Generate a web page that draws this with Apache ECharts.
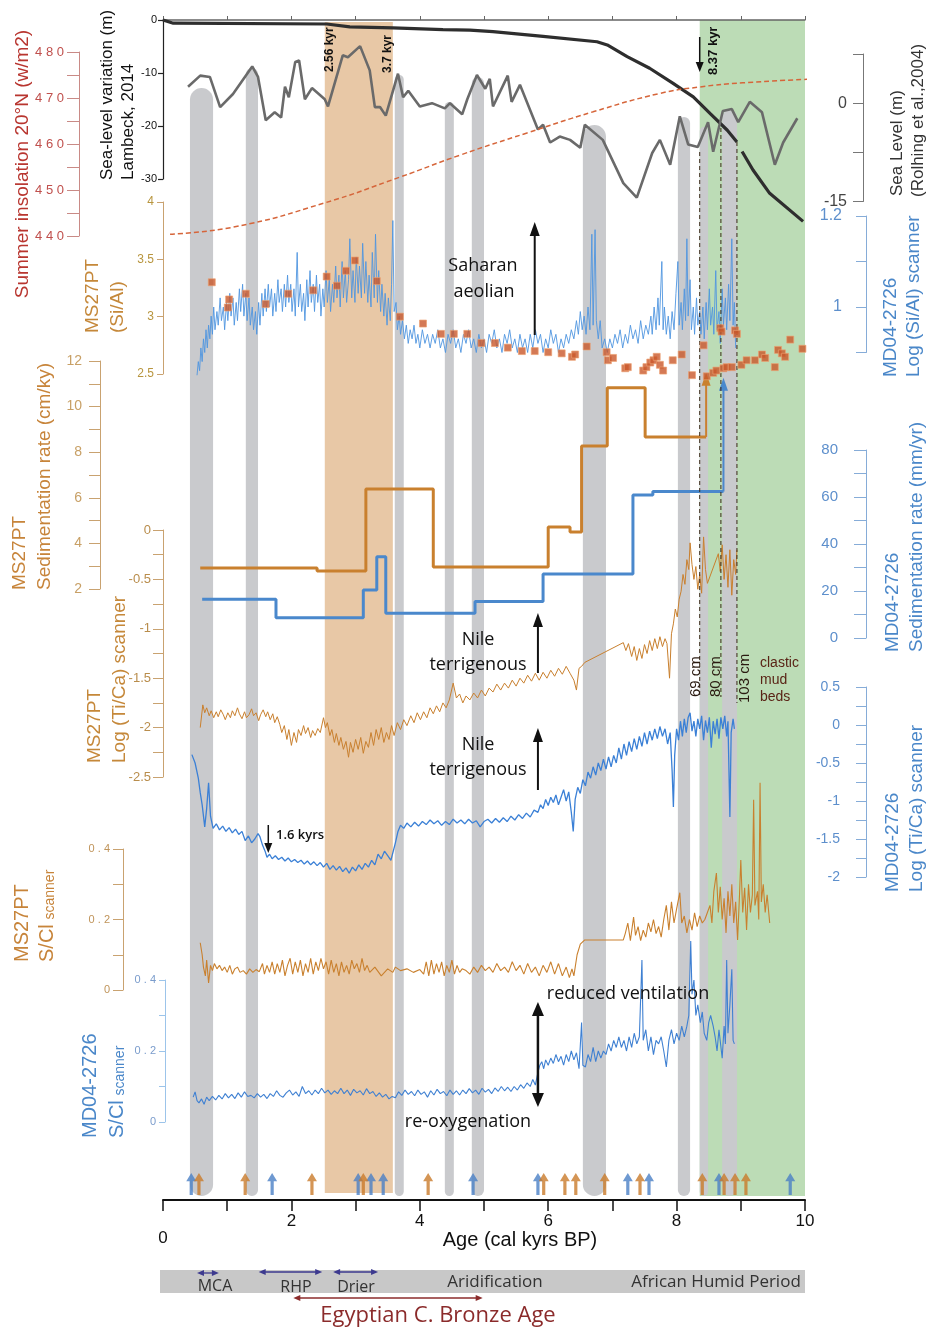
<!DOCTYPE html>
<html>
<head>
<meta charset="utf-8">
<title>Holocene records MS27PT / MD04-2726</title>
<script src="https://cdn.jsdelivr.net/npm/echarts/dist/echarts.min.js"></script>
<style>html,body{margin:0;padding:0;background:#fff;}#c{width:932px;height:1333px;}</style>
</head>
<body>
<div id="c"></div>
<script>
// ================= DATA =================
// Sea-level variation, Lambeck 2014 (m)
const lambeckAge   = [0, 0.16, 2.55, 2.91, 3.58, 4.36, 4.78, 5.14, 5.92, 6.76, 6.92, 7.23, 7.58, 7.94, 8.26, 8.52, 8.79, 8.94, 8.98, 9.02, 9.19, 9.45, 9.97];
const lambeckLevel = [0, -0.6, -0.75, -1.3, -1.5, -1.8, -1.9, -2.2, -3.1, -4.1, -4.7, -6.9, -9.1, -11.9, -14.5, -17.6, -20.8, -23.0, null, -24.8, -28.3, -32.7, -38.0];
// Sea level, Rohling et al. 2004 (m)
const rohlingAge   = [0.39,0.58,0.73,0.89,1.09,1.39,1.48,1.60,1.74,1.84,1.90,1.96,2.06,2.12,2.21,2.32,2.52,2.57,2.80,2.88,3.07,3.22,3.30,3.38,3.47,3.66,3.74,3.82,4.00,4.19,4.39,4.47,4.66,4.74,4.89,5.02,5.09,5.14,5.37,5.43,5.56,5.84,5.92,6.03,6.18,6.34,6.50,6.57,6.85,7.17,7.38,7.62,7.74,7.90,8.05,8.18,8.33,8.49,8.57,8.72,8.86,8.96,9.14,9.33,9.53,9.66,9.88];
const rohlingLevel = [2.5,4.2,4.0,-0.6,1.4,5.6,4.0,-2.6,-1.4,-2.2,2.5,0.9,6.3,6.5,0.6,2.3,0.6,-0.5,7.3,7.0,8.7,5.0,-0.6,-0.6,-1.9,4.5,0.9,1.9,-0.5,0,-0.8,0,-1.7,0.6,4.3,2.2,3.7,-0.5,4.2,0.2,2.8,-4.0,-3.3,-6.0,-5.1,-5.6,-6.8,-3.3,-5.6,-12.2,-14.4,-7.6,-5.6,-9.4,-2.0,-6.3,-6.7,-2.9,-7.4,-1.2,-0.9,-2.9,0.2,-1.4,-9.4,-6.0,-2.3];
// Summer insolation 20N (W/m2)
const insolAge = [0.11, 1.12, 2.52, 3.69, 4.63, 5.67, 6.70, 7.74, 8.36, 9.03, 10.12];
const insolVal = [440.4, 442.0, 447.2, 452.8, 457.6, 462.4, 467.0, 471.0, 472.4, 473.3, 474.1];
// MS27PT Si/Al (discrete samples)
const siAlMS27 = [[0.76,3.30],[1.01,3.08],[1.03,3.15],[1.29,3.20],[1.60,3.11],[1.95,3.20],[2.34,3.23],[2.55,3.35],[2.71,3.27],[2.85,3.40],[2.99,3.49],[3.33,3.31],[3.69,3.00],[4.05,2.94],[4.33,2.85],[4.53,2.85],[4.74,2.85],[4.96,2.77],[5.17,2.77],[5.37,2.73],[5.59,2.70],[5.79,2.70],[6.00,2.69],[6.21,2.68],[6.37,2.65],[6.42,2.67],[6.60,2.74],[6.91,2.69],[6.93,2.62],[7.01,2.64],[7.20,2.55],[7.24,2.56],[7.48,2.53],[7.53,2.56],[7.59,2.60],[7.64,2.62],[7.69,2.65],[7.74,2.58],[7.79,2.53],[7.94,2.62],[8.08,2.67],[8.24,2.49],[8.42,2.75],[8.47,2.48],[8.57,2.51],[8.62,2.53],[8.68,2.90],[8.70,2.87],[8.73,2.55],[8.78,2.56],[8.86,2.56],[8.91,2.88],[8.94,2.85],[9.01,2.58],[9.09,2.62],[9.22,2.62],[9.33,2.67],[9.38,2.64],[9.53,2.56],[9.58,2.71],[9.64,2.68],[9.69,2.65],[9.77,2.80],[9.96,2.72]];
// MD04-2726 log(Si/Al) scanner
const siAlMD04 = [[0.53,0.85],[0.55,0.88],[0.57,0.86],[0.59,0.91],[0.61,0.88],[0.63,0.93],[0.65,0.90],[0.67,0.95],[0.69,0.91],[0.71,0.96],[0.73,0.93],[0.75,0.98],[0.77,0.94],[0.79,1.00],[0.81,0.95],[0.84,0.99],[0.86,0.96],[0.89,1.02],[0.91,0.97],[0.94,1.00],[0.96,0.95],[0.99,1.01],[1.01,0.97],[1.04,1.03],[1.06,0.98],[1.09,1.02],[1.11,0.96],[1.14,1.01],[1.16,0.97],[1.19,1.04],[1.21,0.99],[1.24,1.05],[1.26,0.98],[1.29,1.03],[1.31,0.97],[1.34,1.02],[1.36,0.96],[1.39,1.00],[1.41,0.95],[1.44,0.99],[1.46,0.94],[1.49,1.01],[1.51,0.96],[1.54,1.03],[1.56,0.98],[1.59,1.04],[1.61,0.99],[1.64,1.05],[1.66,1.00],[1.69,1.04],[1.71,0.98],[1.74,1.03],[1.76,0.99],[1.79,1.06],[1.81,1.01],[1.84,1.04],[1.86,0.99],[1.89,1.05],[1.91,1.00],[1.94,1.07],[1.96,1.01],[1.99,1.05],[2.01,0.99],[2.04,1.04],[2.06,0.98],[2.09,1.12],[2.11,1.00],[2.14,1.05],[2.16,0.99],[2.19,1.03],[2.21,0.97],[2.24,1.06],[2.26,1.00],[2.29,1.08],[2.31,1.01],[2.34,1.05],[2.36,0.99],[2.39,1.07],[2.41,1.01],[2.44,1.05],[2.46,0.98],[2.49,1.04],[2.51,1.00],[2.54,1.08],[2.56,1.01],[2.59,1.06],[2.61,0.99],[2.64,1.05],[2.66,1.01],[2.69,1.09],[2.71,1.02],[2.74,1.07],[2.76,1.00],[2.79,1.10],[2.81,1.02],[2.84,1.08],[2.86,1.01],[2.89,1.06],[2.91,1.15],[2.94,1.02],[2.96,1.08],[2.99,1.01],[3.01,1.11],[3.04,1.03],[3.06,1.09],[3.09,1.02],[3.11,1.14],[3.14,1.03],[3.16,1.10],[3.19,1.01],[3.21,1.07],[3.24,1.00],[3.26,1.12],[3.29,1.02],[3.31,1.16],[3.34,1.01],[3.36,1.08],[3.39,0.99],[3.41,1.05],[3.44,0.98],[3.46,1.03],[3.49,0.96],[3.51,1.02],[3.54,0.97],[3.56,1.05],[3.58,1.19],[3.60,0.99],[3.63,1.01],[3.65,0.95],[3.68,0.98],[3.70,0.94],[3.73,0.97],[3.76,0.93],[3.79,0.96],[3.82,0.92],[3.85,0.95],[3.88,0.93],[3.91,0.96],[3.94,0.92],[3.97,0.94],[4.00,0.91],[4.04,0.95],[4.08,0.92],[4.12,0.94],[4.16,0.91],[4.20,0.94],[4.24,0.92],[4.28,0.95],[4.32,0.91],[4.36,0.93],[4.40,0.90],[4.44,0.94],[4.48,0.92],[4.52,0.95],[4.56,0.91],[4.60,0.93],[4.64,0.90],[4.68,0.94],[4.72,0.92],[4.76,0.95],[4.80,0.91],[4.84,0.93],[4.88,0.90],[4.92,0.94],[4.96,0.91],[5.00,0.93],[5.04,0.90],[5.08,0.94],[5.12,0.92],[5.16,0.95],[5.20,0.91],[5.24,0.93],[5.28,0.90],[5.32,0.94],[5.36,0.92],[5.40,0.95],[5.44,0.91],[5.48,0.93],[5.52,0.90],[5.56,0.94],[5.60,0.91],[5.64,0.93],[5.68,0.90],[5.72,0.94],[5.76,0.91],[5.80,0.95],[5.84,0.92],[5.88,0.94],[5.92,0.90],[5.96,0.93],[6.00,0.91],[6.04,0.95],[6.08,0.92],[6.12,0.94],[6.16,0.90],[6.20,0.93],[6.24,0.91],[6.28,0.94],[6.32,0.92],[6.36,0.95],[6.40,0.93],[6.44,0.97],[6.47,0.94],[6.50,0.99],[6.53,0.95],[6.56,0.98],[6.59,0.94],[6.62,1.00],[6.65,0.95],[6.68,1.16],[6.70,0.96],[6.73,1.17],[6.75,0.97],[6.78,0.93],[6.81,0.97],[6.84,0.91],[6.88,0.93],[6.92,0.90],[6.96,0.93],[7.00,0.91],[7.04,0.94],[7.08,0.92],[7.12,0.95],[7.16,0.91],[7.20,0.94],[7.24,0.92],[7.28,0.96],[7.32,0.93],[7.36,0.95],[7.40,0.92],[7.44,0.97],[7.48,0.93],[7.52,0.96],[7.56,0.94],[7.60,0.98],[7.62,0.94],[7.65,1.00],[7.68,0.95],[7.71,1.02],[7.73,0.96],[7.77,1.10],[7.79,0.95],[7.81,1.00],[7.84,0.94],[7.87,0.98],[7.90,0.93],[7.93,0.99],[7.96,0.95],[7.99,1.03],[8.02,1.10],[8.04,0.96],[8.07,1.01],[8.09,0.95],[8.12,1.04],[8.14,0.97],[8.16,1.15],[8.18,0.98],[8.21,1.06],[8.23,0.95],[8.26,1.00],[8.28,0.94],[8.31,1.02],[8.33,0.96],[8.36,0.99],[8.38,0.94],[8.41,1.00],[8.43,0.93],[8.46,1.01],[8.48,0.95],[8.51,1.04],[8.53,0.96],[8.56,1.00],[8.58,0.94],[8.61,1.08],[8.63,0.95],[8.66,0.99],[8.68,0.92],[8.71,1.04],[8.73,0.96],[8.76,1.02],[8.78,0.95],[8.81,1.05],[8.83,0.97],[8.86,1.15],[8.88,0.96],[8.90,1.01],[8.92,0.91]];
// Sedimentation rates (step breakpoints)
const sedMS27Age  = [0.58, 2.40, 3.16, 4.21, 6.00, 6.34, 6.52, 6.92, 7.51, 8.46];
const sedMS27Rate = [2.92, 2.79, 6.39, 2.96, 4.72, 4.50, 8.27, 10.83, 8.67, 8.67];
const sedMS27Beyond = [8.46, 11.2];
const sedMD04Age  = [0.61, 1.76, 3.12, 3.33, 3.47, 4.86, 5.92, 7.32, 7.63, 8.73];
const sedMD04Rate = [16.5, 8.6, 20.4, 34.6, 10.5, 15.5, 27.2, 60.9, 62.3, 62.3];
const sedMD04Beyond = [8.73, 108];
// MS27PT log(Ti/Ca) scanner
const tiCaMS27 = [[0.58,-2.00],[0.62,-1.77],[0.65,-1.85],[0.68,-1.80],[0.72,-1.88],[0.75,-1.83],[0.79,-1.90],[0.83,-1.84],[0.86,-1.89],[0.90,-1.82],[0.94,-1.87],[0.97,-1.92],[1.01,-1.85],[1.05,-1.90],[1.08,-1.83],[1.12,-1.88],[1.16,-1.80],[1.19,-1.86],[1.23,-1.91],[1.27,-1.84],[1.30,-1.90],[1.34,-1.87],[1.38,-1.81],[1.41,-1.88],[1.45,-1.85],[1.49,-1.93],[1.52,-1.87],[1.56,-1.82],[1.60,-1.89],[1.63,-1.84],[1.67,-1.92],[1.71,-1.86],[1.74,-1.95],[1.78,-1.89],[1.82,-1.97],[1.85,-2.05],[1.89,-1.98],[1.93,-2.12],[1.96,-2.02],[2.00,-2.18],[2.04,-2.05],[2.08,-2.15],[2.11,-2.02],[2.15,-2.08],[2.19,-1.98],[2.22,-2.06],[2.26,-2.00],[2.30,-2.10],[2.33,-2.03],[2.37,-2.08],[2.41,-2.01],[2.45,-2.05],[2.50,-1.90],[2.53,-2.00],[2.56,-1.95],[2.60,-2.08],[2.63,-2.02],[2.67,-2.15],[2.70,-2.06],[2.74,-2.18],[2.77,-2.10],[2.81,-2.22],[2.85,-2.14],[2.89,-2.30],[2.92,-2.15],[2.96,-2.25],[3.00,-2.12],[3.04,-2.22],[3.08,-2.10],[3.12,-2.26],[3.16,-2.14],[3.20,-2.20],[3.24,-2.05],[3.28,-2.18],[3.32,-2.02],[3.36,-2.12],[3.40,-2.00],[3.44,-2.15],[3.48,-2.05],[3.52,-2.12],[3.56,-1.98],[3.60,-2.08],[3.65,-1.95],[3.70,-2.02],[3.75,-1.92],[3.80,-1.98],[3.86,-1.88],[3.91,-1.95],[3.96,-1.85],[4.01,-1.92],[4.06,-1.84],[4.11,-1.90],[4.16,-1.80],[4.21,-1.86],[4.26,-1.78],[4.31,-1.84],[4.36,-1.75],[4.41,-1.80],[4.46,-1.72],[4.52,-1.55],[4.57,-1.70],[4.62,-1.66],[4.67,-1.75],[4.72,-1.68],[4.78,-1.72],[4.84,-1.65],[4.90,-1.70],[4.96,-1.62],[5.02,-1.68],[5.08,-1.60],[5.14,-1.64],[5.20,-1.56],[5.26,-1.62],[5.32,-1.55],[5.38,-1.60],[5.44,-1.52],[5.50,-1.58],[5.56,-1.50],[5.62,-1.55],[5.68,-1.47],[5.74,-1.53],[5.80,-1.45],[5.86,-1.52],[5.92,-1.44],[5.98,-1.50],[6.04,-1.42],[6.10,-1.48],[6.16,-1.40],[6.22,-1.46],[6.28,-1.38],[6.34,-1.45],[6.40,-1.52],[6.44,-1.62],[6.48,-1.40],[6.52,-1.38],[6.57,-1.34],[7.17,-1.14],[7.21,-1.22],[7.25,-1.15],[7.30,-1.28],[7.34,-1.18],[7.38,-1.32],[7.42,-1.20],[7.46,-1.30],[7.50,-1.16],[7.54,-1.25],[7.58,-1.12],[7.62,-1.22],[7.66,-1.10],[7.70,-1.20],[7.74,-1.08],[7.78,-1.18],[7.82,-1.10],[7.85,-1.15],[7.89,-1.50],[7.92,-1.05],[7.95,-0.95],[7.98,-0.80],[8.01,-0.88],[8.04,-0.70],[8.07,-0.62],[8.10,-0.45],[8.13,-0.55],[8.16,-0.30],[8.19,-0.40],[8.21,-0.13],[8.24,-0.35],[8.27,-0.50],[8.30,-0.37],[8.33,-0.60],[8.36,-0.45],[8.39,-0.64],[8.42,-0.07],[8.45,-0.40],[8.48,-0.54],[8.65,-0.24],[8.68,-0.42],[8.71,-0.15],[8.74,-0.50],[8.77,-0.25],[8.80,-0.58],[8.83,-0.20],[8.86,-0.66],[8.89,-0.30],[8.92,-0.45],[8.94,-0.20]];
// MD04-2726 log(Ti/Ca) scanner
const tiCaMD04 = [[0.45,-0.39],[0.50,-0.50],[0.55,-0.70],[0.58,-0.89],[0.61,-1.05],[0.65,-1.34],[0.68,-1.10],[0.71,-0.76],[0.74,-1.20],[0.78,-1.36],[0.83,-1.30],[0.88,-1.38],[0.93,-1.33],[0.98,-1.40],[1.03,-1.35],[1.08,-1.42],[1.13,-1.37],[1.18,-1.44],[1.23,-1.40],[1.28,-1.52],[1.33,-1.46],[1.38,-1.55],[1.43,-1.50],[1.48,-1.43],[1.51,-1.47],[1.55,-1.58],[1.59,-1.66],[1.62,-1.74],[1.66,-1.70],[1.70,-1.76],[1.75,-1.72],[1.80,-1.77],[1.85,-1.74],[1.90,-1.79],[1.95,-1.75],[2.00,-1.80],[2.05,-1.77],[2.10,-1.81],[2.15,-1.78],[2.20,-1.83],[2.25,-1.79],[2.30,-1.84],[2.35,-1.80],[2.40,-1.85],[2.45,-1.81],[2.50,-1.87],[2.55,-1.82],[2.60,-1.90],[2.65,-1.85],[2.70,-1.91],[2.75,-1.86],[2.80,-1.93],[2.85,-1.88],[2.90,-1.95],[2.95,-1.87],[3.00,-1.92],[3.05,-1.84],[3.10,-1.90],[3.15,-1.82],[3.20,-1.87],[3.25,-1.78],[3.30,-1.84],[3.35,-1.70],[3.40,-1.76],[3.45,-1.66],[3.50,-1.72],[3.55,-1.78],[3.58,-1.80],[3.62,-1.55],[3.66,-1.40],[3.70,-1.32],[3.75,-1.36],[3.80,-1.29],[3.86,-1.34],[3.92,-1.28],[3.98,-1.33],[4.04,-1.27],[4.10,-1.31],[4.16,-1.25],[4.22,-1.30],[4.28,-1.26],[4.34,-1.32],[4.40,-1.27],[4.46,-1.31],[4.52,-1.24],[4.58,-1.29],[4.64,-1.25],[4.70,-1.30],[4.76,-1.24],[4.82,-1.29],[4.88,-1.26],[4.94,-1.34],[5.00,-1.27],[5.06,-1.24],[5.12,-1.29],[5.18,-1.23],[5.24,-1.28],[5.30,-1.22],[5.36,-1.27],[5.42,-1.20],[5.48,-1.25],[5.54,-1.18],[5.60,-1.23],[5.66,-1.16],[5.72,-1.21],[5.78,-1.12],[5.84,-1.15],[5.88,-1.05],[5.92,-1.10],[5.96,-0.98],[6.00,-1.06],[6.04,-0.95],[6.08,-1.02],[6.12,-0.92],[6.16,-1.05],[6.20,-0.95],[6.24,-0.85],[6.28,-1.00],[6.32,-0.88],[6.36,-1.15],[6.39,-1.40],[6.42,-0.98],[6.46,-0.82],[6.50,-0.90],[6.54,-0.72],[6.58,-0.80],[6.62,-0.62],[6.66,-0.70],[6.70,-0.55],[6.74,-0.66],[6.78,-0.50],[6.82,-0.60],[6.86,-0.45],[6.90,-0.58],[6.94,-0.42],[6.98,-0.55],[7.02,-0.40],[7.06,-0.50],[7.10,-0.30],[7.14,-0.45],[7.18,-0.25],[7.22,-0.40],[7.26,-0.22],[7.30,-0.35],[7.34,-0.18],[7.38,-0.32],[7.42,-0.15],[7.46,-0.28],[7.50,-0.10],[7.54,-0.25],[7.58,-0.08],[7.62,-0.20],[7.66,-0.05],[7.70,-0.18],[7.74,-0.02],[7.78,-0.15],[7.82,-0.05],[7.86,-0.25],[7.90,-0.10],[7.93,-0.60],[7.95,-1.08],[7.97,-0.40],[8.00,-0.05],[8.03,-0.20],[8.06,0.05],[8.09,-0.15],[8.12,0.08],[8.15,-0.10],[8.18,0.10],[8.21,0.16],[8.24,-0.08],[8.27,0.05],[8.30,-0.15],[8.33,0.08],[8.36,-0.05],[8.39,0.12],[8.42,-0.20],[8.45,0.06],[8.48,-0.10],[8.51,0.10],[8.54,-0.30],[8.57,0.05],[8.60,-0.12],[8.63,0.08],[8.66,-0.18],[8.69,0.10],[8.72,-0.05],[8.75,0.12],[8.78,-0.15],[8.80,0.05],[8.83,-1.21],[8.85,-0.10],[8.88,0.08],[8.90,-0.05]];
// MS27PT S/Cl scanner
const sClMS27 = [[0.58,0.134],[0.61,0.10],[0.63,0.065],[0.66,0.04],[0.68,0.085],[0.71,0.02],[0.74,0.07],[0.77,0.055],[0.80,0.075],[0.84,0.06],[0.88,0.07],[0.92,0.055],[0.96,0.065],[1.00,0.05],[1.04,0.07],[1.08,0.045],[1.12,0.06],[1.16,0.065],[1.20,0.05],[1.25,0.055],[1.30,0.045],[1.35,0.06],[1.40,0.05],[1.45,0.058],[1.50,0.052],[1.55,0.075],[1.58,0.045],[1.62,0.07],[1.66,0.05],[1.70,0.08],[1.74,0.045],[1.78,0.075],[1.82,0.05],[1.86,0.085],[1.90,0.04],[1.94,0.07],[1.98,0.09],[2.02,0.045],[2.06,0.08],[2.10,0.05],[2.14,0.085],[2.18,0.04],[2.22,0.075],[2.26,0.05],[2.30,0.09],[2.34,0.045],[2.38,0.08],[2.42,0.055],[2.46,0.09],[2.50,0.06],[2.54,0.08],[2.58,0.045],[2.62,0.085],[2.66,0.05],[2.70,0.075],[2.74,0.04],[2.78,0.08],[2.82,0.05],[2.86,0.07],[2.90,0.045],[2.94,0.085],[2.98,0.06],[3.02,0.075],[3.06,0.05],[3.10,0.09],[3.14,0.055],[3.18,0.07],[3.22,0.05],[3.30,0.065],[3.40,0.04],[3.50,0.06],[3.58,0.05],[3.62,0.065],[3.70,0.055],[3.80,0.06],[3.90,0.05],[4.00,0.058],[4.06,0.045],[4.10,0.08],[4.14,0.04],[4.18,0.085],[4.22,0.045],[4.26,0.075],[4.30,0.05],[4.34,0.08],[4.38,0.04],[4.42,0.07],[4.46,0.05],[4.50,0.085],[4.54,0.045],[4.58,0.07],[4.62,0.05],[4.66,0.06],[4.72,0.055],[4.78,0.045],[4.84,0.065],[4.90,0.05],[4.96,0.07],[5.02,0.055],[5.08,0.065],[5.14,0.05],[5.20,0.075],[5.26,0.055],[5.32,0.065],[5.38,0.05],[5.44,0.08],[5.50,0.055],[5.56,0.07],[5.62,0.045],[5.68,0.075],[5.74,0.05],[5.80,0.065],[5.86,0.04],[5.92,0.07],[5.98,0.05],[6.04,0.08],[6.10,0.045],[6.16,0.075],[6.22,0.04],[6.28,0.065],[6.33,0.035],[6.37,0.06],[6.40,0.04],[6.45,0.10],[6.50,0.13],[6.57,0.142],[7.17,0.142],[7.20,0.16],[7.24,0.19],[7.28,0.14],[7.33,0.207],[7.36,0.155],[7.40,0.18],[7.44,0.14],[7.48,0.17],[7.52,0.15],[7.56,0.19],[7.60,0.165],[7.64,0.20],[7.68,0.16],[7.72,0.18],[7.76,0.15],[7.80,0.20],[7.84,0.24],[7.88,0.17],[7.92,0.25],[7.96,0.19],[8.00,0.23],[8.05,0.276],[8.08,0.19],[8.12,0.21],[8.16,0.162],[8.20,0.20],[8.24,0.17],[8.28,0.219],[8.32,0.18],[8.36,0.21],[8.40,0.19],[8.44,0.20],[8.47,0.215],[8.49,0.21],[8.52,0.24],[8.55,0.19],[8.58,0.28],[8.62,0.332],[8.65,0.22],[8.68,0.293],[8.71,0.20],[8.74,0.26],[8.77,0.162],[8.80,0.28],[8.83,0.21],[8.86,0.30],[8.89,0.19],[8.92,0.25],[8.95,0.142],[8.98,0.27],[9.00,0.369],[9.03,0.22],[9.06,0.29],[9.09,0.17],[9.12,0.30],[9.15,0.22],[9.18,0.27],[9.20,0.54],[9.22,0.24],[9.26,0.28],[9.28,0.20],[9.30,0.588],[9.32,0.25],[9.35,0.30],[9.38,0.22],[9.41,0.27],[9.45,0.19]];
// MD04-2726 S/Cl scanner
const sClMD04 = [[0.47,0.07],[0.50,0.085],[0.53,0.06],[0.56,0.054],[0.60,0.065],[0.64,0.05],[0.68,0.07],[0.72,0.06],[0.77,0.072],[0.82,0.062],[0.87,0.075],[0.92,0.065],[0.97,0.08],[1.02,0.068],[1.07,0.078],[1.12,0.066],[1.17,0.082],[1.22,0.07],[1.27,0.085],[1.32,0.072],[1.37,0.075],[1.42,0.068],[1.47,0.08],[1.52,0.07],[1.57,0.078],[1.62,0.066],[1.67,0.08],[1.72,0.072],[1.77,0.088],[1.82,0.075],[1.87,0.07],[1.92,0.082],[1.97,0.09],[2.02,0.076],[2.07,0.085],[2.12,0.072],[2.17,0.10],[2.22,0.08],[2.27,0.088],[2.32,0.076],[2.37,0.09],[2.42,0.08],[2.47,0.095],[2.52,0.082],[2.57,0.09],[2.62,0.078],[2.67,0.088],[2.72,0.08],[2.77,0.095],[2.82,0.08],[2.87,0.09],[2.92,0.075],[2.97,0.092],[3.02,0.082],[3.07,0.088],[3.12,0.076],[3.17,0.094],[3.22,0.08],[3.27,0.086],[3.32,0.072],[3.37,0.082],[3.42,0.07],[3.47,0.078],[3.52,0.065],[3.57,0.072],[3.62,0.068],[3.67,0.085],[3.72,0.075],[3.77,0.09],[3.82,0.078],[3.87,0.086],[3.92,0.074],[3.97,0.09],[4.02,0.078],[4.07,0.085],[4.12,0.07],[4.17,0.088],[4.22,0.076],[4.27,0.092],[4.32,0.08],[4.37,0.086],[4.42,0.074],[4.47,0.09],[4.52,0.078],[4.57,0.088],[4.62,0.076],[4.67,0.09],[4.72,0.08],[4.77,0.094],[4.82,0.082],[4.87,0.09],[4.92,0.078],[4.97,0.095],[5.02,0.084],[5.07,0.092],[5.12,0.08],[5.17,0.096],[5.22,0.086],[5.27,0.10],[5.32,0.088],[5.37,0.098],[5.42,0.086],[5.47,0.10],[5.52,0.09],[5.57,0.105],[5.62,0.095],[5.67,0.11],[5.72,0.10],[5.76,0.12],[5.80,0.104],[5.84,0.14],[5.87,0.16],[5.90,0.17],[5.93,0.15],[5.96,0.175],[6.00,0.16],[6.04,0.18],[6.08,0.165],[6.12,0.19],[6.16,0.17],[6.20,0.185],[6.24,0.16],[6.28,0.19],[6.32,0.17],[6.36,0.20],[6.40,0.175],[6.44,0.195],[6.48,0.15],[6.52,0.28],[6.54,0.16],[6.58,0.155],[6.62,0.19],[6.66,0.17],[6.70,0.21],[6.74,0.17],[6.78,0.20],[6.82,0.18],[6.86,0.20],[6.90,0.19],[6.94,0.22],[6.98,0.2],[7.02,0.23],[7.06,0.21],[7.10,0.24],[7.14,0.21],[7.18,0.23],[7.22,0.20],[7.26,0.24],[7.30,0.21],[7.34,0.25],[7.38,0.22],[7.42,0.24],[7.46,0.456],[7.48,0.23],[7.52,0.26],[7.56,0.2],[7.60,0.24],[7.64,0.19],[7.68,0.23],[7.72,0.22],[7.76,0.24],[7.80,0.2],[7.84,0.155],[7.88,0.23],[7.92,0.26],[7.96,0.22],[8.00,0.25],[8.04,0.23],[8.08,0.27],[8.12,0.24],[8.16,0.27],[8.19,0.3],[8.22,0.51],[8.24,0.36],[8.27,0.40],[8.30,0.3],[8.33,0.33],[8.37,0.28],[8.40,0.31],[8.43,0.25],[8.47,0.23],[8.50,0.28],[8.53,0.30],[8.57,0.27],[8.60,0.24],[8.63,0.20],[8.66,0.26],[8.71,0.18],[8.74,0.27],[8.76,0.22],[8.78,0.456],[8.80,0.25],[8.83,0.33],[8.86,0.43],[8.88,0.23],[8.90,0.22]];
// Radiocarbon / dating control points
const datesMD04 = [0.44, 1.70, 3.04, 3.24, 3.43, 4.83, 5.84, 7.24, 7.57, 8.66, 9.77];
const datesMS27 = [0.56, 1.28, 2.32, 3.12, 4.13, 5.93, 6.26, 6.43, 6.88, 7.43, 8.40, 8.74, 8.91, 9.08];
// Shaded intervals (kyr BP)
const greyBands  = [[0.42,0.78],[1.29,1.48],[3.61,3.75],[4.39,4.53],[4.81,5.00],[6.54,6.90],[8.02,8.21],[8.36,8.49],[8.71,8.94]];
const tanBand    = [[2.52, 3.58]];
const greenBand  = [[8.36, 10.0]];
const cutAges    = [8.36, 8.69, 8.94];           // 69 cm, 80 cm, 103 cm
const periodSpans = [[0.53,0.87],[1.49,2.48],[2.65,3.35],[2.03,4.98]]; // MCA, RHP, Drier, Egyptian Bronze Age
const annoAges   = [5.79, 5.84, 5.84, 5.84, 1.64, 8.36]; // x of annotation arrows

// ================= LAYOUT / STYLE =================
const SANS = '"Liberation Sans", Arial, sans-serif';
const MYR = '"Open Sans", "Noto Sans", sans-serif';
const OR = '#c9802e', OR_AX = '#c9a270', OR_LB = '#b98d4c', OR_T = '#c5883a';
const BL = '#4a88cc', BL_AX = '#86acd8', BL_LB = '#5d8fcc', BL_T = '#4a87c9';
const PANELS = [[20,159],[54,147.5],[52,184],[202,172],[216,136.5],[361,228],[450,188],[530,247],[687,190],[849,141],[980,142],[20,1180],[1170,28],[1262,50]];
const GREY_TOP = [88,68,75,102,77,125,117,127,110], BAND_BOT = 1196;
const CUT_TOP = [152,128,142], CUT_BOT = [697,697,703];
const PERIOD_Y = [1273,1272,1272,1298], PERIOD_C = ['#3d3a8f','#3d3a8f','#3d3a8f','#8b2b2b'];
const ANNO = [ // top, bottom, headTop, headBottom, width, headHalfWidth, headLength
  [222,335,true,false,2,5,14],[613,673,true,false,2,5,14],[728,790,true,false,2,5,14],
  [1002,1107,true,true,2.5,6,14],[825,853,false,true,1.5,4,10],[37,72,false,true,1.5,4,10]];

const pairs = (a,b) => a.map((x,i) => [x, b[i] == null ? '-' : b[i]]);
const near = (v,t) => Math.abs(v-t) < 1e-6;

const chart = echarts.init(document.getElementById('c'), null, {renderer:'canvas'});

const grid = PANELS.map(p => ({left:163, width:642, top:p[0], height:p[1]}));
const xAxis = PANELS.map((p,i) => ({type:'value', gridIndex:i, min:0, max:10, interval:1, show:false,
  axisLine:{onZero:false}, splitLine:{show:false}}));
xAxis[0] = {type:'value', gridIndex:0, min:0, max:10, interval:1, position:'top', show:true,
  axisLine:{onZero:false, lineStyle:{color:'#666', width:1.5}}, axisTick:{length:4, lineStyle:{color:'#666'}},
  axisLabel:{show:false}, splitLine:{show:false}};
xAxis[11] = {type:'value', gridIndex:11, min:0, max:10, interval:1, position:'bottom', show:true,
  axisLine:{onZero:false, lineStyle:{color:'#111', width:2}}, axisTick:{length:11, lineStyle:{color:'#111', width:1.5}},
  axisLabel:{fontSize:17, color:'#111', fontFamily:SANS, margin:13,
    formatter: v => v === 0 ? '\n0' : (v % 2 === 0 ? String(v) : '')}, splitLine:{show:false}};

function yAx(gi, o) {
  return {type:'value', gridIndex:gi, min:o.min, max:o.max, interval:o.interval,
    position:o.pos || 'left', offset:o.offset || 0, splitLine:{show:false},
    axisLine:{show:true, onZero:false, lineStyle:{color:o.line, width:o.lw || 1}},
    axisTick:{show:true, inside:!!o.inside, length:o.tick || 8, lineStyle:{color:o.line, width:o.lw || 1}},
    axisLabel:{show:true, inside:!!o.inside, margin:o.margin || 8, color:o.label, fontSize:o.fs || 12,
      fontFamily:SANS, formatter:o.fmt, showMinLabel:true, showMaxLabel:true}};
}
const halfFmt = v => { const r = Math.round(v*100)/100; return near(r*2, Math.round(r*2)) ? String(r) : ''; };
const sclFmt = v => near(v,0.4) ? '0 . 4' : near(v,0.2) ? '0 . 2' : near(v,0) ? '0' : '';
const yAxis = [
  yAx(0,{min:-30,max:0,interval:10,line:'#222',label:'#111',fs:11,tick:5,margin:6,lw:1.2,fmt:v=>String(v)}),
  yAx(1,{min:-15,max:7.5,interval:7.5,pos:'right',offset:58,inside:true,line:'#777',label:'#444',fs:16,tick:10,margin:16,
    fmt:v=>near(v,0)?'0':near(v,-15)?'-15':''}),
  yAx(2,{min:440,max:480,interval:5,offset:84,line:'#c98a86',label:'#c0504d',fs:13,tick:12,margin:15,
    fmt:v=>Math.round(v)%10===0?String(Math.round(v)).split('').join(' '):''}),
  yAx(3,{min:2.5,max:4,interval:0.5,line:OR_AX,label:'#b8953e',fs:12,tick:6,margin:9,fmt:v=>String(Math.round(v*10)/10)}),
  yAx(4,{min:0.9,max:1.2,interval:0.1,pos:'right',offset:61,inside:true,line:BL_AX,label:BL_LB,fs:16,tick:10,margin:24,
    fmt:v=>near(v,1.2)?'1.2':near(v,1)?'1':''}),
  yAx(5,{min:2,max:12,interval:1,offset:63,line:OR_AX,label:'#c8a066',fs:14,tick:11,margin:18,fmt:v=>v%2===0?String(v):''}),
  yAx(6,{min:0,max:80,interval:10,pos:'right',offset:61,inside:true,line:BL_AX,label:BL_LB,fs:15,tick:12,margin:28,
    fmt:v=>v%20===0?String(v):''}),
  yAx(7,{min:-2.5,max:0,interval:0.25,line:OR_AX,label:OR_LB,fs:13,tick:10,margin:12,fmt:halfFmt}),
  yAx(8,{min:-2,max:0.5,interval:0.25,pos:'right',offset:61,inside:true,line:BL_AX,label:BL_LB,fs:14,tick:10,margin:26,fmt:halfFmt}),
  yAx(9,{min:0,max:0.4,interval:0.1,offset:40,line:OR_AX,label:'#c0945a',fs:11,tick:10,margin:13,fmt:sclFmt}),
  yAx(10,{min:0,max:0.4,interval:0.1,offset:-2,line:'#9cc4ea',label:'#7a9ccc',fs:11,tick:6,margin:9,fmt:sclFmt}),
  {type:'value', gridIndex:11, min:0, max:1, show:false},
  {type:'value', gridIndex:12, min:0, max:1, show:false},
  {type:'value', gridIndex:13, min:0, max:1, show:false}
];

function line(gi, data, color, width, extra) {
  return Object.assign({type:'line', xAxisIndex:gi, yAxisIndex:gi, data, symbol:'none', showSymbol:false,
    clip:false, silent:true, lineStyle:{color, width}, itemStyle:{color}, z:5}, extra || {});
}
function bandSeries(data, color, tops, bot, rounded, z) {
  return {type:'custom', xAxisIndex:11, yAxisIndex:11, data, z, silent:true,
    renderItem: (params, api) => {
      const x0 = api.coord([api.value(0), 0])[0], x1 = api.coord([api.value(1), 0])[0];
      const top = tops[params.dataIndex], w = x1 - x0;
      return {type:'rect', shape:{x:x0, y:top, width:w, height:bot - top, r: rounded ? w/2 : 0}, style:{fill:color}};
    }};
}
function headPts(x, y, dir, hw, hl) { // dir -1 up tip, +1 down tip
  return [[x, y], [x - hw, y - dir*hl], [x + hw, y - dir*hl]];
}
const ARROW_UP = 'path://M5 0 L10 9 L6.6 9 L6.6 24 L3.4 24 L3.4 9 L0 9 Z';

const series = [
  bandSeries(greenBand, '#bcdcb6', [20], BAND_BOT, false, 0),
  bandSeries(tanBand, '#e8c8a6', [22], 1193, false, 0),
  bandSeries(greyBands, '#c9cacd', GREY_TOP, BAND_BOT, true, 1),
  // dashed core-depth markers
  {type:'custom', xAxisIndex:11, yAxisIndex:11, data:cutAges.map(a=>[a,0]), z:6, silent:true,
   renderItem:(params, api) => { const x = api.coord([api.value(0),0])[0], i = params.dataIndex;
     return {type:'line', shape:{x1:x, y1:CUT_TOP[i], x2:x, y2:CUT_BOT[i]}, style:{stroke:'#3a2818', lineWidth:1, lineDash:[4,3]}}; }},
  // sea level curves
  line(0, pairs(lambeckAge, lambeckLevel), '#2e2e2e', 3.2, {connectNulls:false}),
  line(1, pairs(rohlingAge, rohlingLevel), '#6a6a6a', 2.6),
  line(2, pairs(insolAge, insolVal), '#d6653a', 1.5, {smooth:true, lineStyle:{color:'#d6653a', width:1.5, type:[5,3]}}),
  // Si/Al
  line(4, siAlMD04, '#4f95e0', 0.9),
  {type:'scatter', xAxisIndex:3, yAxisIndex:3, data:siAlMS27, symbol:'rect', symbolSize:7, clip:false, silent:true, z:7,
   itemStyle:{color:'#c9582a', borderColor:'#eea070', borderWidth:0.8}},
  // sedimentation rates
  line(5, pairs(sedMS27Age, sedMS27Rate), OR, 3, {step:'end'}),
  line(5, [{value:[sedMS27Beyond[0], sedMS27Rate[sedMS27Rate.length-1]], symbol:'none'},
           {value:[sedMS27Beyond[0], sedMS27Beyond[1]], symbol:'triangle', symbolSize:[9,13]}], OR, 2, {showSymbol:true}),
  line(6, pairs(sedMD04Age, sedMD04Rate), BL, 3, {step:'end'}),
  line(6, [{value:[sedMD04Beyond[0], sedMD04Rate[sedMD04Rate.length-1]], symbol:'none'},
           {value:[sedMD04Beyond[0], sedMD04Beyond[1]], symbol:'triangle', symbolSize:[9,13]}], BL, 2, {showSymbol:true}),
  // Ti/Ca
  line(7, tiCaMS27, OR, 1),
  line(8, tiCaMD04, '#3b80d6', 1.3),
  // S/Cl
  line(9, sClMS27, OR, 1.1),
  line(10, sClMD04, '#3f80d2', 1.1),
  // dating control arrows
  {type:'scatter', xAxisIndex:12, yAxisIndex:12, data:datesMD04.map(a=>[a,0.5]), symbol:ARROW_UP, symbolSize:[10,22],
   clip:false, silent:true, z:8, itemStyle:{color:'#4a80c6'}},
  {type:'scatter', xAxisIndex:12, yAxisIndex:12, data:datesMS27.map(a=>[a,0.5]), symbol:ARROW_UP, symbolSize:[10,22],
   clip:false, silent:true, z:8, itemStyle:{color:'#c97a2a'}},
  // annotation arrows
  {type:'custom', xAxisIndex:11, yAxisIndex:11, data:annoAges.map(a=>[a,0]), z:20, silent:true,
   renderItem:(params, api) => {
     const x = api.coord([api.value(0),0])[0]; const [t,b,ht,hb,w,hw,hl] = ANNO[params.dataIndex];
     const ch = [{type:'line', shape:{x1:x, y1:ht ? t + hl*0.8 : t, x2:x, y2:hb ? b - hl*0.8 : b}, style:{stroke:'#111', lineWidth:w}}];
     if (ht) ch.push({type:'polygon', shape:{points:headPts(x, t, -1, hw, hl)}, style:{fill:'#111'}});
     if (hb) ch.push({type:'polygon', shape:{points:headPts(x, b, 1, hw, hl)}, style:{fill:'#111'}});
     return {type:'group', children:ch};
   }},
  // period double arrows
  {type:'custom', xAxisIndex:11, yAxisIndex:11, data:periodSpans, z:20, silent:true,
   renderItem:(params, api) => {
     const i = params.dataIndex, y = PERIOD_Y[i], c = PERIOD_C[i];
     const x0 = api.coord([api.value(0),0])[0], x1 = api.coord([api.value(1),0])[0];
     return {type:'group', children:[
       {type:'line', shape:{x1:x0+3, y1:y, x2:x1-3, y2:y}, style:{stroke:c, lineWidth:1.3}},
       {type:'polygon', shape:{points:[[x0,y],[x0+7,y-3],[x0+7,y+3]]}, style:{fill:c}},
       {type:'polygon', shape:{points:[[x1,y],[x1-7,y-3],[x1-7,y+3]]}, style:{fill:c}}]};
   }}
];

function T(x, y, text, o) {
  o = o || {};
  const st = {text, fill:o.color || '#111', fontSize:o.fs || 17, fontFamily:o.ff || SANS, fontWeight:o.fw || 'normal',
    align:o.align || 'left', verticalAlign:o.va || 'middle', textAlign:o.align || 'left', textVerticalAlign:o.va || 'middle'};
  if (o.rich) st.rich = o.rich;
  return {type:'text', x, y, rotation:o.rot ? Math.PI/2 : 0, z:100, silent:true, style:st};
}
const R = {rot:true};
const graphic = [
  {type:'rect', shape:{x:160, y:1270, width:645, height:23}, style:{fill:'#c8c8c8'}, z:-1, silent:true},
  // axis titles (rotated)
  T(23, 164, 'Summer insolation 20°N (w/m2)', {rot:true, align:'center', fs:19, color:'#b8352f'}),
  T(107, 180, 'Sea-level variation (m)', {rot:true, fs:17}),
  T(128, 180, 'Lambeck, 2014', {rot:true, fs:17}),
  T(93, 333, 'MS27PT', {rot:true, fs:19, color:OR_T}),
  T(118, 333, '(Si/Al)', {rot:true, fs:19, color:OR_T}),
  T(20, 590, 'MS27PT', {rot:true, fs:19, color:'#c7843a'}),
  T(45, 590, 'Sedimentation rate (cm/ky)', {rot:true, fs:19, color:'#c7843a'}),
  T(95, 763, 'MS27PT', {rot:true, fs:19, color:OR_T}),
  T(120, 763, 'Log (Ti/Ca) scanner', {rot:true, fs:19, color:OR_T}),
  T(22, 962, 'MS27PT', {rot:true, fs:20, color:'#c7843a'}),
  T(47, 962, '{a|S/Cl} {b|scanner}', {rot:true, color:'#c7843a', rich:{a:{fontSize:20, fontFamily:SANS, fill:'#c7843a'}, b:{fontSize:14, fontFamily:SANS, fill:'#c7843a', verticalAlign:'bottom'}}}),
  T(90, 1138, 'MD04-2726', {rot:true, fs:20, color:BL_T}),
  T(117, 1138, '{a|S/Cl} {b|scanner}', {rot:true, color:BL_T, rich:{a:{fontSize:20, fontFamily:SANS, fill:BL_T}, b:{fontSize:14, fontFamily:SANS, fill:BL_T, verticalAlign:'bottom'}}}),
  T(897, 196, 'Sea Level (m)', {rot:true, fs:17, color:'#333'}),
  T(918, 197, '(Rolhing et al.,2004)', {rot:true, fs:17, color:'#333'}),
  T(891, 377, 'MD04-2726', {rot:true, fs:19, color:BL_T}),
  T(914, 377, 'Log (Si/Al) scanner', {rot:true, fs:19, color:BL_T}),
  T(893, 652, 'MD04-2726', {rot:true, fs:19, color:BL_T}),
  T(917, 652, 'Sedimentation rate (mm/yr)', {rot:true, fs:19, color:BL_T}),
  T(893, 892, 'MD04-2726', {rot:true, fs:19, color:BL_T}),
  T(917, 892, 'Log (Ti/Ca) scanner', {rot:true, fs:19, color:BL_T}),
  // event labels
  T(330, 72, '2.56 kyr', {rot:true, fs:12, fw:'bold'}),
  T(388, 73, '3.7 kyr', {rot:true, fs:12, fw:'bold'}),
  T(713, 75, '8.37 kyr', {rot:true, fs:13, fw:'bold'}),
  T(696, 697, '69 cm', {rot:true, fs:15, color:'#2a1a10'}),
  T(716, 697, '80 cm', {rot:true, fs:15, color:'#2a1a10'}),
  T(745, 703, '103 cm', {rot:true, fs:15, color:'#2a1a10'}),
  T(760, 663, 'clastic', {fs:14, color:'#5a2416'}),
  T(760, 680, 'mud', {fs:14, color:'#5a2416'}),
  T(760, 697, 'beds', {fs:14, color:'#5a2416'}),
  // annotations
  T(483, 266, 'Saharan', {align:'center', fs:18, ff:MYR}),
  T(484, 292, 'aeolian', {align:'center', fs:18, ff:MYR}),
  T(478, 640, 'Nile', {align:'center', fs:18, ff:MYR}),
  T(478, 665, 'terrigenous', {align:'center', fs:18, ff:MYR}),
  T(478, 745, 'Nile', {align:'center', fs:18, ff:MYR}),
  T(478, 770, 'terrigenous', {align:'center', fs:18, ff:MYR}),
  T(628, 994, 'reduced ventilation', {align:'center', fs:18, ff:MYR}),
  T(468, 1122, 're-oxygenation', {align:'center', fs:18, ff:MYR}),
  T(276, 835, '1.6 kyrs', {fs:13, ff:MYR, fw:600}),
  T(520, 1240, 'Age (cal kyrs BP)', {align:'center', fs:20}),
  T(215, 1286, 'MCA', {align:'center', fs:16, ff:MYR, color:'#333'}),
  T(296, 1287, 'RHP', {align:'center', fs:16, ff:MYR, color:'#333'}),
  T(356, 1287, 'Drier', {align:'center', fs:16, ff:MYR, color:'#333'}),
  T(495, 1282, 'Aridification', {align:'center', fs:17, ff:MYR, color:'#333'}),
  T(716, 1282, 'African Humid Period', {align:'center', fs:17, ff:MYR, color:'#333'}),
  T(438, 1316, 'Egyptian C. Bronze Age', {align:'center', fs:22, ff:MYR, color:'#8b2b2b'})
];

chart.setOption({animation:false, backgroundColor:'#fff', grid, xAxis, yAxis, series, graphic});
</script>
</body>
</html>
